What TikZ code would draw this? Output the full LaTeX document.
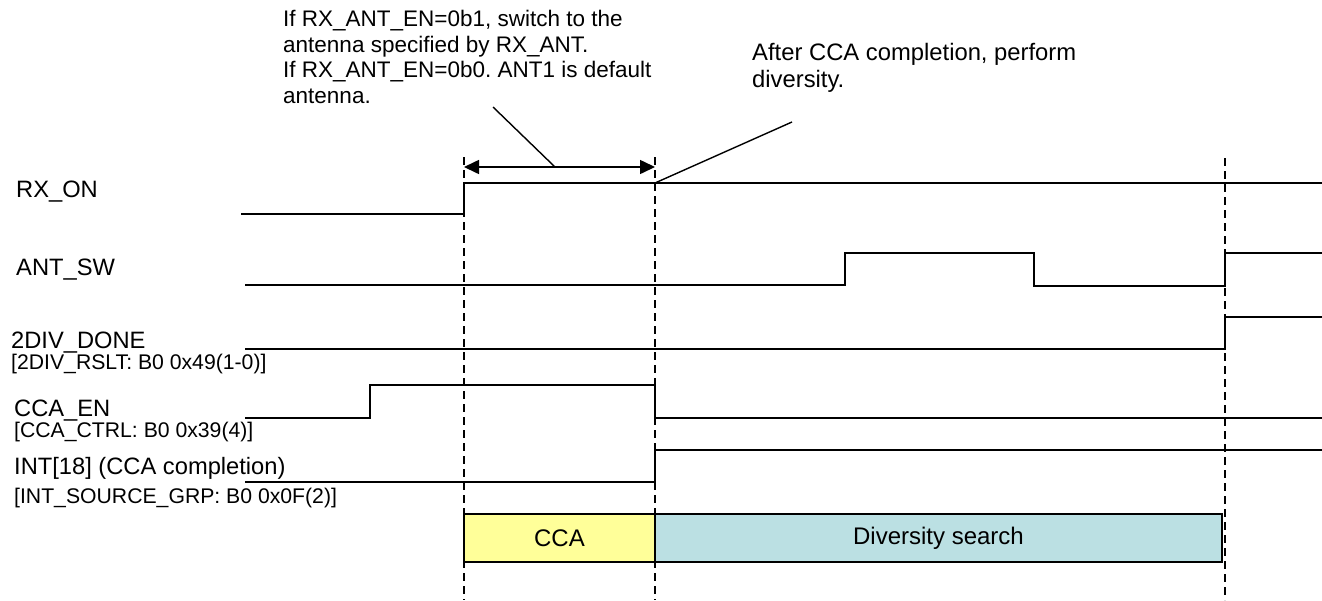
\documentclass[tikz,border=0pt]{standalone}
\usepackage{fontspec}
\setmainfont{Liberation Sans}
\usetikzlibrary{arrows.meta}
\definecolor{ccafill}{HTML}{FFFF99}
\definecolor{divfill}{HTML}{BBE0E3}
\frenchspacing
\begin{document}
\begin{tikzpicture}[x=1pt,y=-1pt,
  lbl/.style={anchor=base west,inner sep=0pt,font=\fontsize{23.7}{26}\selectfont},
  sublbl/.style={anchor=base west,inner sep=0pt,font=\fontsize{21.2}{24}\selectfont},
  noteA/.style={anchor=base west,inner sep=0pt,font=\fontsize{22.5}{26}\selectfont},
  noteB/.style={anchor=base west,inner sep=0pt,font=\fontsize{23.8}{26}\selectfont},
  wave/.style={line width=1.6pt,line join=miter},
  guide/.style={line width=1.3pt,dash pattern=on 8pt off 5pt},
  leader/.style={line width=1.4pt},
  phase/.style={draw,line width=1.6pt,minimum height=48pt,inner sep=0pt,font=\fontsize{24}{26}\selectfont}]
\useasboundingbox (0,0) rectangle (1322,600);

% time marks
\coordinate (g1t) at (464,157);
\coordinate (g1b) at (464,600);
\coordinate (g2t) at (655,157);
\coordinate (g2b) at (655,600);
\coordinate (g3t) at (1225,158);
\coordinate (g3b) at (1225,600);

% guides
\draw[guide] (g1t) -- (g1b);
\draw[guide] (g2t) -- (g2b);
\draw[guide] (g3t) -- (g3b);

% signal labels
\node[lbl] (lrx) at (16,197) {RX\_ON};
\node[lbl] (lant) at (16,275) {ANT\_SW};
\node[lbl] (ldiv) at (11,348) {2DIV\_DONE};
\node[sublbl] (sdiv) at (11,369) {[2DIV\_RSLT: B0 0x49(1-0)]};
\node[lbl] (lcca) at (14,416) {CCA\_EN};
\node[sublbl] (scca) at (14,437) {[CCA\_CTRL: B0 0x39(4)]};
\node[lbl] (lint) at (14,474) {INT[18] (CCA completion)};
\node[sublbl] (sint) at (14,503) {[INT\_SOURCE\_GRP: B0 0x0F(2)]};

% waveforms
\draw[wave] (241,214) -- (464,214) -- (464,183) -- (1322,183);
\draw[wave] (245,285) -- (845,285) -- (845,253) -- (1034,253) -- (1034,286) -- (1225,286) -- (1225,253) -- (1322,253);
\draw[wave] (245,349) -- (1225,349) -- (1225,317) -- (1322,317);
\draw[wave] (245,418) -- (370,418) -- (370,385) -- (655,385) -- (655,418) -- (1322,418);
\draw[wave] (245,482) -- (655,482) -- (655,450) -- (1322,450);

% phases
\node[phase,fill=ccafill,minimum width=191pt] (cca) at (559.5,538) {CCA};
\node[phase,fill=divfill,minimum width=567pt] (div) at (938.5,538) {Diversity search};

% dimension arrow
\coordinate (aL) at (464,167);
\coordinate (aR) at (655,167);
\draw[line width=1.6pt,{Triangle[length=15pt,width=14pt]}-{Triangle[length=15pt,width=14pt]}] (aL) -- (aR);

% annotations
\node[noteA] (n1a) at (283,26) {If RX\_ANT\_EN=0b1, switch to the};
\node[noteA] (n1b) at (283,52) {antenna specified by RX\_ANT.};
\node[noteA] (n1c) at (283,77) {If RX\_ANT\_EN=0b0. ANT1 is default};
\node[noteA] (n1d) at (283,103) {antenna.};
\node[noteB] (n2a) at (752,60) {After CCA completion, perform};
\node[noteB] (n2b) at (752,87) {diversity.};

\coordinate (k1a) at (493,107);
\coordinate (k1b) at (555,167);
\coordinate (k2a) at (792,122);
\coordinate (k2b) at (655,183);
\draw[leader] (k1a) -- (k1b);
\draw[leader] (k2a) -- (k2b);
\end{tikzpicture}
\end{document}
